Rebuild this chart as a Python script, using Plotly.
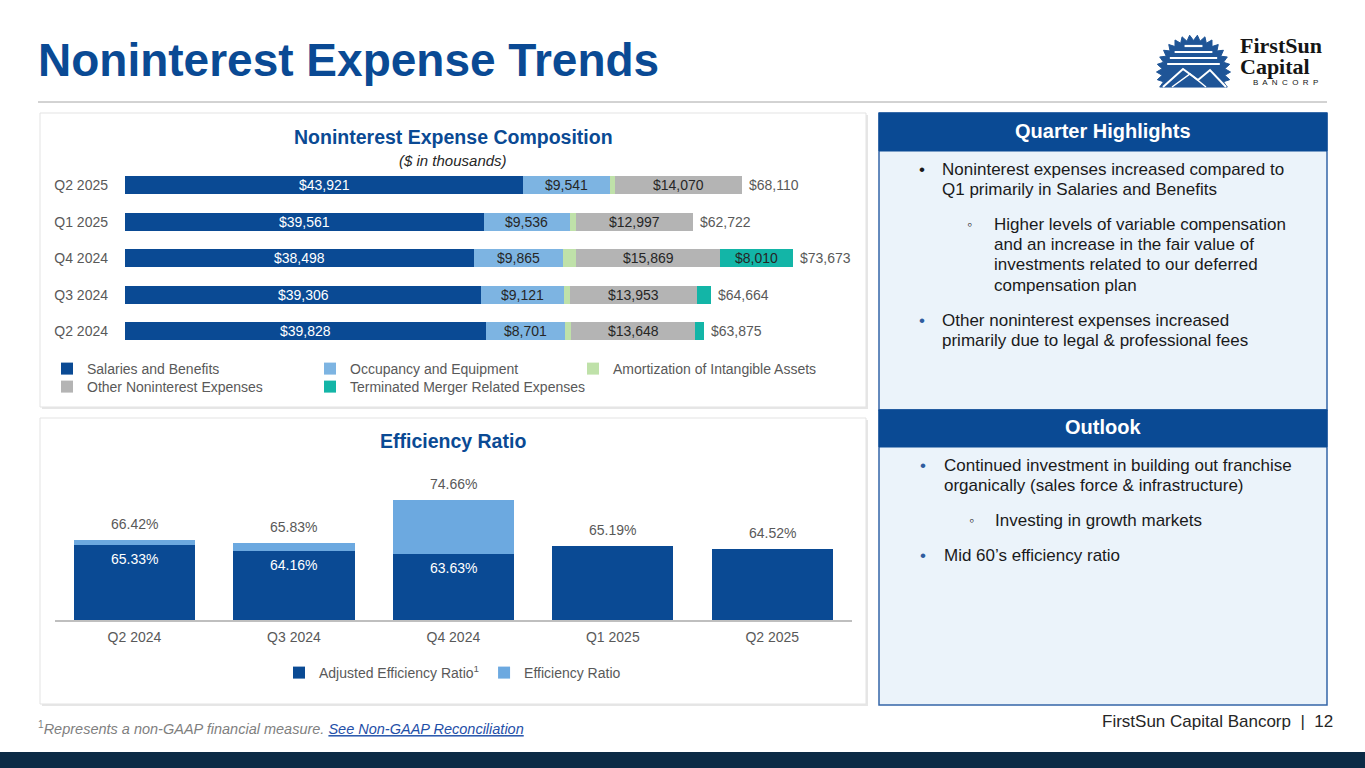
import math
import plotly.graph_objects as go

# ---------------- data ----------------
quarters = ["Q2 2024", "Q3 2024", "Q4 2024", "Q1 2025", "Q2 2025"]
salaries = [39828, 39306, 38498, 39561, 43921]
occupancy = [8701, 9121, 9865, 9536, 9541]
amortization = [720, 700, 1431, 628, 578]
other_exp = [13648, 13953, 15869, 12997, 14070]
merger = [978, 1584, 8010, 0, 0]

adjusted_ratio = [65.33, 64.16, 63.63, 65.19, 64.52]
efficiency_ratio = [66.42, 65.83, 74.66, 65.19, 64.52]

# ---------------- helpers ----------------
W, H = 1365, 768
FONT = "Liberation Sans, Arial, sans-serif"
DARK = "#0A4A94"
OCC = "#7DB4E2"
GREEN = "#BFE1A9"
GRAY = "#B4B4B4"
TEAL = "#13B5A7"
EFF = "#6CA9E0"
TXT = "#595959"


def X(p):
    return p / W


def Y(p):
    return 1 - p / H


annotations = []
shapes = []


def ann(text, x, y, size=14, color=TXT, xanchor="center", yanchor="middle",
        family=FONT, **kw):
    d = dict(text=text, x=X(x), y=Y(y), xref="paper", yref="paper",
             xanchor=xanchor, yanchor=yanchor, showarrow=False,
             font=dict(size=size, color=color, family=family))
    d.update(kw)
    annotations.append(d)


def rect(x0, y0, x1, y1, fill, line=None, lw=0, layer="below"):
    shapes.append(dict(type="rect", xref="paper", yref="paper",
                       x0=X(x0), x1=X(x1), y0=Y(y1), y1=Y(y0),
                       fillcolor=fill, layer=layer,
                       line=dict(color=line or fill, width=lw)))


def money(v):
    return f"${v:,}"


fig = go.Figure()

# ---------------- chart 1 : stacked horizontal bars ----------------
series = [
    ("Salaries and Benefits", salaries, DARK, "white", "legend", 218),
    ("Occupancy and Equipment", occupancy, OCC, "#262626", "legend", 218),
    ("Amortization of Intangible Assets", amortization, GREEN, "#262626", "legend", 218),
    ("Other Noninterest Expenses", other_exp, GRAY, "#262626", "legend2", 218),
    ("Terminated Merger Related Expenses", merger, TEAL, "#262626", "legend2", 270),
]
base = [0] * len(quarters)
for name, vals, col, tcol, lg, lw in series:
    fig.add_trace(go.Bar(
        y=quarters, x=vals, orientation="h", name=name,
        marker=dict(color=col, line=dict(width=0)),
        width=0.484, legendwidth=lw,
        xaxis="x", yaxis="y", legend=lg, hoverinfo="skip",
    ))
    for i, (q, v) in enumerate(zip(quarters, vals)):
        if v >= 5000:
            annotations.append(dict(text=money(v), x=base[i] + v / 2, y=q,
                                    xref="x", yref="y", xanchor="center",
                                    yanchor="middle", showarrow=False,
                                    font=dict(size=14, color=tcol, family=FONT)))
        base[i] += v

for q, t in zip(quarters, base):
    annotations.append(dict(text=money(t), x=t, y=q, xref="x", yref="y",
                            xanchor="left", yanchor="middle", xshift=5,
                            showarrow=False,
                            font=dict(size=14, color=TXT, family=FONT)))

# ---------------- chart 2 : efficiency ratio ----------------
fig.add_trace(go.Bar(
    x=quarters, y=adjusted_ratio, name="Adjusted Efficiency Ratio<sup>1</sup>",
    marker=dict(color=DARK, line=dict(width=0)), width=0.76,
    xaxis="x2", yaxis="y2", legend="legend3", hoverinfo="skip",
))
fig.add_trace(go.Bar(
    x=quarters, y=[e - a for a, e in zip(adjusted_ratio, efficiency_ratio)],
    name="Efficiency Ratio",
    marker=dict(color=EFF, line=dict(width=0)), width=0.76,
    xaxis="x2", yaxis="y2", legend="legend3", hoverinfo="skip",
))
for q, a, e in zip(quarters, adjusted_ratio, efficiency_ratio):
    annotations.append(dict(text=f"{e:.2f}%", x=q, y=e, xref="x2", yref="y2",
                            xanchor="center", yanchor="bottom", yshift=6,
                            showarrow=False,
                            font=dict(size=14, color=TXT, family=FONT)))
    if a != e:
        annotations.append(dict(text=f"{a:.2f}%", x=q, y=a, xref="x2", yref="y2",
                                xanchor="center", yanchor="top", yshift=-4,
                                showarrow=False,
                                font=dict(size=14, color="white", family=FONT)))

# ---------------- slide decoration ----------------
rect(42, 115, 868, 409, "#E6E6E6")
rect(40, 113, 866, 407, "white", "#E3E3E3", 1)
rect(42, 420, 868, 706, "#E6E6E6")
rect(40, 418, 866, 704, "white", "#E3E3E3", 1)

BODY = "#EBF3FA"
BORDER = "#3566A8"
rect(879, 113, 1327, 410, BODY, BORDER, 1.5)
rect(879, 113, 1327, 151, DARK, DARK, 1)
rect(879, 410, 1327, 705, BODY, BORDER, 1.5)
rect(879, 410, 1327, 447, DARK, DARK, 1)

shapes.append(dict(type="line", xref="paper", yref="paper", x0=X(38), x1=X(1327),
                   y0=Y(102), y1=Y(102), line=dict(color="#A6A6A6", width=1)))
rect(0, 752, 1365, 768, "#0B2A45")

# logo: toothed sun
cx, cy, R1, R2 = 1193.5, 72.0, 37.0, 31.5
pts = []
n = 30
a0, a1 = -24, 204
steps = int((a1 - a0) / (360 / n) * 2)
for i in range(steps + 1):
    a = math.radians(a0 + i * (a1 - a0) / steps)
    r = R1 if i % 2 == 0 else R2
    pts.append((cx + r * math.cos(a), cy - r * math.sin(a)))
path = "M " + " L ".join(f"{X(px):.5f},{Y(py):.5f}" for px, py in pts) + " Z"
shapes.append(dict(type="path", xref="paper", yref="paper", path=path,
                   fillcolor="#1F5597", line=dict(color="#1F5597", width=1), layer="above"))
for yy in [46, 52, 58, 64]:
    hw = math.sqrt(max(27.5 ** 2 - (cy - yy) ** 2, 0))
    shapes.append(dict(type="line", xref="paper", yref="paper",
                       x0=X(cx - hw), x1=X(cx + hw), y0=Y(yy), y1=Y(yy),
                       line=dict(color="white", width=2.2), layer="above"))
mnt = [(1163, 87), (1183, 69), (1198, 80), (1210, 70), (1226, 87)]
shapes.append(dict(type="path", xref="paper", yref="paper",
                   path="M " + " L ".join(f"{X(a):.5f},{Y(b):.5f}" for a, b in mnt),
                   line=dict(color="white", width=2), layer="above"))
mnt2 = [(1172, 87), (1190, 74), (1206, 87)]
shapes.append(dict(type="path", xref="paper", yref="paper",
                   path="M " + " L ".join(f"{X(a):.5f},{Y(b):.5f}" for a, b in mnt2),
                   line=dict(color="white", width=1.5), layer="above"))

SERIF = "Liberation Serif, DejaVu Serif, serif"
ann("<b>FirstSun</b>", 1238, 45, size=22, color="#151515", xanchor="left", family=SERIF)
ann("<b>Capital</b>", 1238, 66, size=22, color="#151515", xanchor="left", family=SERIF)
ann("B  A  N  C  O  R  P", 1251, 83, size=8, color="#151515", xanchor="left")

ann("<b>Noninterest Expense Trends</b>", 36, 60, size=46, color=DARK, xanchor="left")
ann("<b>Noninterest Expense Composition</b>", 453, 137, size=19.5, color=DARK)
ann("<i>($ in thousands)</i>", 453, 161, size=15, color="#262626")
ann("<b>Efficiency Ratio</b>", 453, 441, size=19.5, color=DARK)

ann("<b>Quarter Highlights</b>", 1103, 131, size=20, color="white")
ann("<b>Outlook</b>", 1103, 427, size=20, color="white")

BLK = "#1A1A1A"
BBLUE = "#2F5C9E"
LH = 20.4


def lines(textlines, x, y0, size=17, color=BLK):
    for i, t in enumerate(textlines):
        ann(t, x, y0 + i * LH, size=size, color=color, xanchor="left")


ann("•", 917, 169, size=17, color=BLK, xanchor="left")
lines(["Noninterest expenses increased compared to",
       "Q1 primarily in Salaries and Benefits"], 940, 169)
ann("◦", 965, 224, size=14, color=BLK, xanchor="left")
lines(["Higher levels of variable compensation",
       "and an increase in the fair value of",
       "investments related to our deferred",
       "compensation plan"], 992, 224)
ann("•", 917, 320, size=17, color=BBLUE, xanchor="left")
lines(["Other noninterest expenses increased",
       "primarily due to legal & professional fees"], 940, 320)

ann("•", 918, 465, size=17, color=BBLUE, xanchor="left")
lines(["Continued investment in building out franchise",
       "organically (sales force & infrastructure)"], 942, 465)
ann("◦", 967, 520, size=14, color=BLK, xanchor="left")
lines(["Investing in growth markets"], 993, 520)
ann("•", 918, 555, size=17, color=BBLUE, xanchor="left")
lines(["Mid 60’s efficiency ratio"], 942, 555)

ann("<sup>1</sup><i>Represents a non-GAAP financial measure. </i>"
    "<i><span style='color:#1F4FA8;text-decoration:underline'>See Non-GAAP Reconciliation</span></i>",
    36, 728, size=14.5, color="#7F7F7F", xanchor="left")
ann("FirstSun Capital Bancorp  |  12", 1335, 721, size=17, color="#262626", xanchor="right")

# ---------------- layout ----------------
leg_common = dict(orientation="h", xanchor="left", yanchor="middle",
                  bgcolor="rgba(0,0,0,0)", borderwidth=0, traceorder="normal",
                  font=dict(size=14, color=TXT, family=FONT),
                  itemclick=False, itemdoubleclick=False)

fig.update_layout(
    width=W, height=H,
    margin=dict(l=0, r=0, t=0, b=0),
    paper_bgcolor="white", plot_bgcolor="rgba(0,0,0,0)",
    font=dict(family=FONT, color=TXT),
    barmode="stack",
    showlegend=True,
    xaxis=dict(domain=[X(125), X(850)], range=[0, 80000], visible=False,
               fixedrange=True),
    yaxis=dict(domain=[Y(349.5), Y(167)], type="category",
               categoryorder="array", categoryarray=quarters,
               showgrid=False, zeroline=False, showline=False, ticks="",
               ticklabelstandoff=16,
               tickfont=dict(size=14, color=TXT, family=FONT), fixedrange=True),
    xaxis2=dict(domain=[X(54.75), X(852)], anchor="y2", type="category",
                showgrid=False, zeroline=False, showline=True,
                linecolor="#BFBFBF", linewidth=2, ticks="",
                ticklabelstandoff=3,
                tickfont=dict(size=14, color=TXT, family=FONT), fixedrange=True),
    yaxis2=dict(domain=[Y(620), Y(470)], anchor="x2", range=[50, 80.8],
                visible=False, fixedrange=True),
    legend=dict(x=X(47), y=Y(369), entrywidthmode="pixels", **leg_common),
    legend2=dict(x=X(47), y=Y(387), entrywidthmode="pixels", **leg_common),
    legend3=dict(x=X(279), y=Y(673), **leg_common),
    annotations=annotations,
    shapes=shapes,
)

fig.write_html("out.html")
